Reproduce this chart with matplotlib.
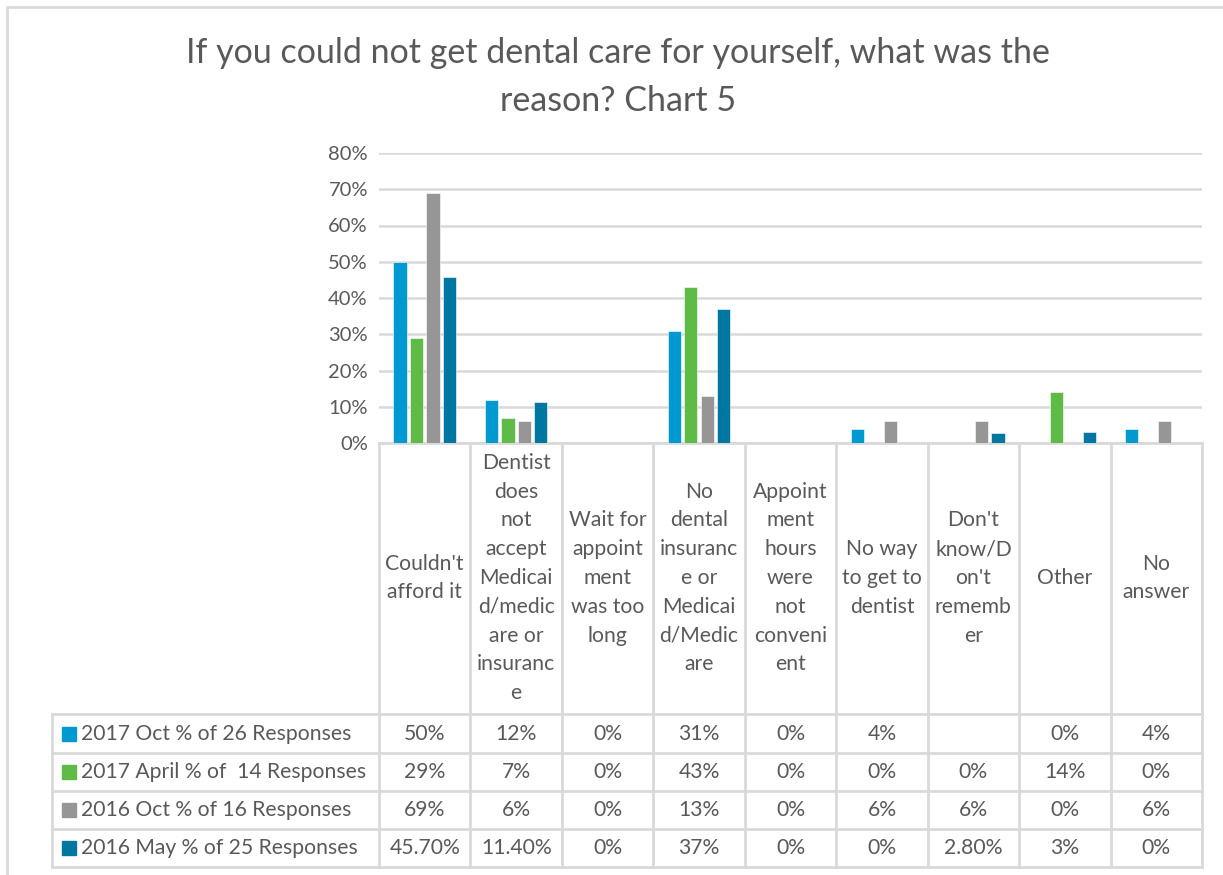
import numpy as np
import matplotlib.pyplot as plt
from matplotlib.transforms import blended_transform_factory
from matplotlib.patches import Rectangle

plt.rcParams['font.family'] = ['Lato', 'DejaVu Sans']

# data
categories = ["Couldn't\nafford it",
              "Dentist\ndoes\nnot\naccept\nMedicai\nd/medic\nare or\ninsuranc\ne",
              "Wait for\nappoint\nment\nwas too\nlong",
              "No\ndental\ninsuranc\ne or\nMedicai\nd/Medic\nare",
              "Appoint\nment\nhours\nwere\nnot\nconveni\nent",
              "No way\nto get to\ndentist",
              "Don't\nknow/D\non't\nrememb\ner",
              "Other",
              "No\nanswer"]
series_names = ["2017 Oct % of 26 Responses",
                "2017 April % of  14 Responses",
                "2016 Oct % of 16 Responses",
                "2016 May % of 25 Responses"]
oct_2017 = [0.50, 0.12, 0.0, 0.31, 0.0, 0.04, np.nan, 0.0, 0.04]
apr_2017 = [0.29, 0.07, 0.0, 0.43, 0.0, 0.0, 0.0, 0.14, 0.0]
oct_2016 = [0.69, 0.06, 0.0, 0.13, 0.0, 0.06, 0.06, 0.0, 0.06]
may_2016 = [0.457, 0.114, 0.0, 0.37, 0.0, 0.0, 0.028, 0.03, 0.0]
table_text = [["50%", "12%", "0%", "31%", "0%", "4%", "", "0%", "4%"],
              ["29%", "7%", "0%", "43%", "0%", "0%", "0%", "14%", "0%"],
              ["69%", "6%", "0%", "13%", "0%", "6%", "6%", "0%", "6%"],
              ["45.70%", "11.40%", "0%", "37%", "0%", "0%", "2.80%", "3%", "0%"]]
colors = ["#0099D0", "#5EBB46", "#969696", "#0077A0"]

W, H = 1223, 875
fig = plt.figure(figsize=(W / 100, H / 100), dpi=100)

def fy(py):
    return 1 - py / H

def fx(px):
    return px / W

text_col = "#595959"
line_col = "#D9D9D9"
fs = 15.2

# outer chart border
fig.add_artist(Rectangle((fx(7), fy(1000)), 2, fy(7) - fy(1000), transform=fig.transFigure,
                         fill=False, edgecolor=line_col, lw=2))

ax = fig.add_axes([fx(379), fy(443), fx(1202) - fx(379), fy(153) - fy(443)])
n = len(categories)
x = np.arange(n)
series = [oct_2017, apr_2017, oct_2016, may_2016]
bw = 0.145
step = 0.18
for i, (vals, c) in enumerate(zip(series, colors)):
    ax.bar(x + (i - 1.5) * step, vals, width=bw, color=c, edgecolor="white", linewidth=0.4, zorder=3)

ax.set_xlim(-0.5, n - 0.5)
ax.set_ylim(0, 0.8)
ax.set_yticks(np.arange(0, 0.81, 0.1))
ax.set_yticklabels([f"{int(round(v * 100))}%" for v in np.arange(0, 0.81, 0.1)],
                   fontsize=14.5, color=text_col)
ax.set_xticks([])
ax.tick_params(axis="y", length=0, pad=8)
ax.grid(axis="y", color=line_col, lw=1.8, zorder=0)
for s in ["top", "right", "left"]:
    ax.spines[s].set_visible(False)
ax.spines["bottom"].set_color(line_col)
ax.spines["bottom"].set_linewidth(2)

fig.text(0.505, fy(77), "If you could not get dental care for yourself, what was the\nreason? Chart 5",
         ha="center", va="center", fontsize=24.5, color=text_col, linespacing=1.6)

# data table
tr = blended_transform_factory(ax.transData, fig.transFigure)
row_y = [714, 753, 791, 829, 867]
for k in range(n + 1):
    fig.add_artist(plt.Line2D([k - 0.5, k - 0.5], [fy(443), fy(867)], transform=tr,
                              color=line_col, lw=2))
fig.add_artist(plt.Line2D([fx(52), fx(52)], [fy(714), fy(867)], transform=fig.transFigure,
                          color=line_col, lw=2))
for ry in row_y:
    fig.add_artist(plt.Line2D([fx(52), fx(1202)], [fy(ry), fy(ry)], transform=fig.transFigure,
                              color=line_col, lw=2))

for k, lab in enumerate(categories):
    fig.text(k, fy(578), lab, transform=tr, ha="center", va="center", fontsize=fs,
             color=text_col, linespacing=1.55)

for r in range(4):
    yc = fy((row_y[r] + row_y[r + 1]) / 2)
    fig.add_artist(Rectangle((fx(62), yc - 7 / H), 14 / W, 14 / H, transform=fig.transFigure,
                             color=colors[r]))
    fig.text(fx(81), yc, series_names[r], ha="left", va="center", fontsize=fs, color=text_col)
    for k in range(n):
        fig.text(k, yc, table_text[r][k], transform=tr, ha="center", va="center",
                 fontsize=fs, color=text_col)

fig.savefig("out.png", dpi=100)
